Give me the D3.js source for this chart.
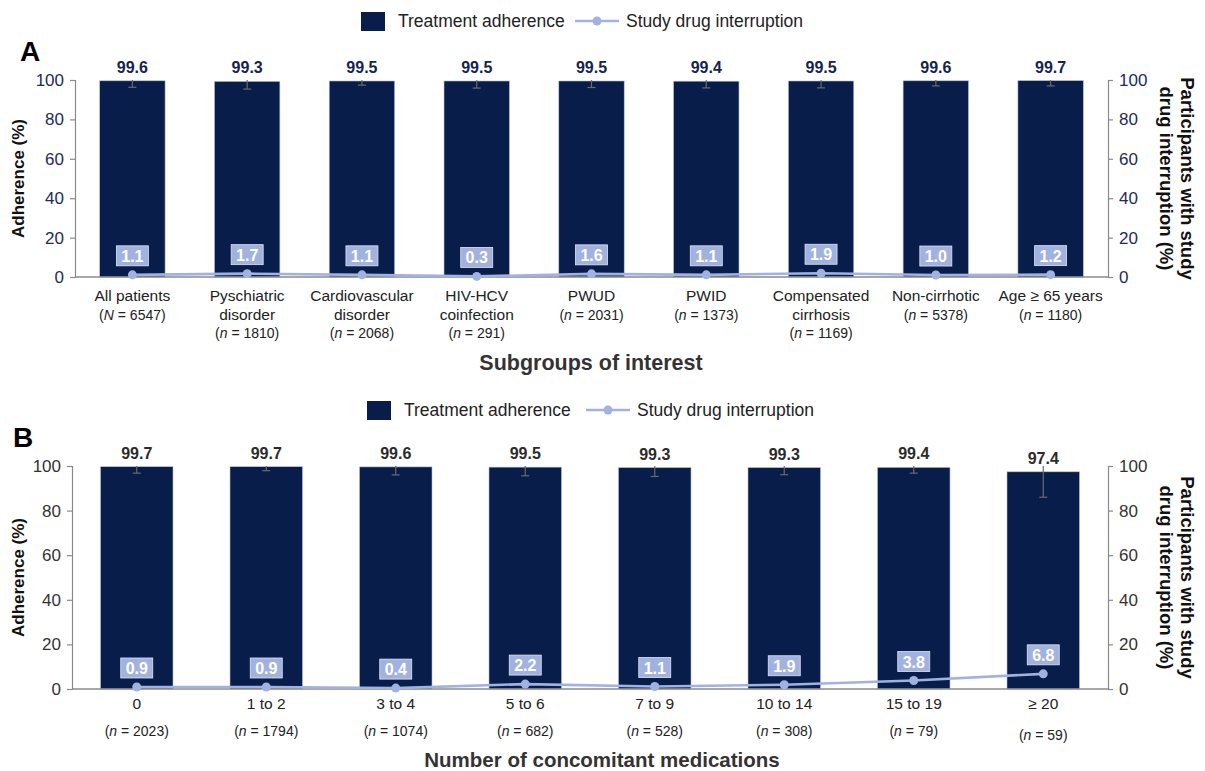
<!DOCTYPE html>
<html><head><meta charset="utf-8">
<script src="https://cdn.jsdelivr.net/npm/d3@7"></script>
<style>body{margin:0;background:#fff}svg{font-family:"Liberation Sans",Arial,sans-serif}</style>
</head><body><svg id="c" width="1205" height="771"></svg>
<script>
// ---------- Data ----------
const catsA = [["All patients"],["Pyschiatric","disorder"],["Cardiovascular","disorder"],["HIV-HCV","coinfection"],["PWUD"],["PWID"],["Compensated","cirrhosis"],["Non-cirrhotic"],["Age ≥ 65 years"]];
const nA = [["N","6547"],["n","1810"],["n","2068"],["n","291"],["n","2031"],["n","1373"],["n","1169"],["n","5378"],["n","1180"]];
const adherenceA = [99.6,99.3,99.5,99.5,99.5,99.4,99.5,99.6,99.7];
const errLowA = [96.3,95.4,97.4,95.9,96.2,96.0,96.0,97.0,97.0];
const errHighA = [100,100,100,100,100,100,100,100,100];
const interruptA = [1.1,1.7,1.1,0.3,1.6,1.1,1.9,1.0,1.2];

const catsB = [["0"],["1 to 2"],["3 to 4"],["5 to 6"],["7 to 9"],["10 to 14"],["15 to 19"],["≥ 20"]];
const nB = [["n","2023"],["n","1794"],["n","1074"],["n","682"],["n","528"],["n","308"],["n","79"],["n","59"]];
const adherenceB = [99.7,99.7,99.6,99.5,99.3,99.3,99.4,97.4];
const errLowB = [96.8,97.9,96.0,95.6,95.3,96.1,96.8,86.0];
const errHighB = [100,100,100,100,100,100,100,100];
const interruptB = [0.9,0.9,0.4,2.2,1.1,1.9,3.8,6.8];

const yTicks = [0,20,40,60,80,100];

// ---------- Styles ----------
const BAR = "#081d4a", LINE = "#a2b2e0", BOX = "#a2b2df", AXIS = "#8a8a8a", ERR = "#6b6b6b";

const svg = d3.select("#c");

function panel(o){
  const g = svg.append("g");
  const x = d3.scaleBand().domain(o.cats.map((d,i)=>i)).range([o.x0,o.x1]).paddingInner(o.pad).paddingOuter(o.pad/2);
  const y = d3.scaleLinear().domain([0,100]).range([o.yb,o.yt]);
  const y2 = d3.scaleLinear().domain([0,100]).range([o.yb,o.yt]);

  // axes
  const la = g.append("g").attr("transform",`translate(${o.x0},0)`).call(d3.axisLeft(y).tickValues(yTicks).tickSize(5).tickPadding(6));
  const ra = g.append("g").attr("transform",`translate(${o.x1},0)`).call(d3.axisRight(y2).tickValues(yTicks).tickSize(5).tickPadding(6));
  [la,ra].forEach(a=>{
    a.selectAll("path,line").attr("stroke",AXIS).attr("stroke-width",1.2);
    a.selectAll("text").attr("fill",o.tickColor).style("font-size","17px");
  });
  // bars
  g.selectAll("rect.bar").data(o.adh).join("rect")
    .attr("x",(d,i)=>x(i)).attr("width",x.bandwidth())
    .attr("y",d=>y(d)).attr("height",d=>y(0)-y(d))
    .attr("fill",BAR).attr("stroke","#b8c2dc").attr("stroke-width",0.6);
  // baseline
  g.append("line").attr("x1",o.x0).attr("x2",o.x1).attr("y1",y(0)).attr("y2",y(0)).attr("stroke",AXIS).attr("stroke-width",1.4);
  // error bars
  o.adh.forEach((d,i)=>{
    const cx = x(i)+x.bandwidth()/2;
    g.append("line").attr("x1",cx).attr("x2",cx).attr("y1",y(o.hi[i])).attr("y2",y(o.lo[i])).attr("stroke",ERR).attr("stroke-width",1.2);
    g.append("line").attr("x1",cx-4).attr("x2",cx+4).attr("y1",y(o.lo[i])).attr("y2",y(o.lo[i])).attr("stroke",ERR).attr("stroke-width",1.2);
  });
  // value labels
  g.selectAll("text.val").data(o.adh).join("text")
    .attr("x",(d,i)=>x(i)+x.bandwidth()/2).attr("y",d=>y(d)-8)
    .attr("text-anchor","middle").attr("font-weight","bold").style("font-size","16px").attr("fill",o.valColor)
    .text(d=>d.toFixed(1));
  // line
  const line = d3.line().x((d,i)=>x(i)+x.bandwidth()/2).y(d=>y2(d));
  g.append("path").datum(o.intr).attr("d",line).attr("fill","none").attr("stroke",LINE).attr("stroke-width",2.6);
  g.selectAll("circle.pt").data(o.intr).join("circle")
    .attr("cx",(d,i)=>x(i)+x.bandwidth()/2).attr("cy",d=>y2(d)).attr("r",4.5).attr("fill",LINE);
  o.intr.forEach((d,i)=>{
    const cx = x(i)+x.bandwidth()/2, cy = y2(d);
    g.append("rect").attr("x",cx-16).attr("y",cy-29).attr("width",32).attr("height",20).attr("fill",BOX).attr("stroke","#dfe5f5").attr("stroke-width",0.8);
    g.append("text").attr("x",cx).attr("y",cy-13).attr("text-anchor","middle").attr("font-weight","bold").style("font-size","16px").attr("fill","#fff").text(d.toFixed(1));
  });
  // category labels
  o.cats.forEach((c,i)=>{
    const cx = x(i)+x.bandwidth()/2;
    const t = g.append("text").attr("text-anchor","middle").attr("fill","#222").style("font-size","15.5px");
    c.forEach((line,j)=>t.append("tspan").attr("x",cx).attr("y",o.catY+j*o.lh).text(line));
    const ny = o.nY ? o.nY(i,c.length) : o.catY + c.length*o.lh;
    const nt = g.append("text").attr("x",cx).attr("y",ny).attr("text-anchor","middle").attr("fill","#222").style("font-size",o.nSize);
    nt.append("tspan").text("(");
    nt.append("tspan").attr("font-style","italic").text(o.ns[i][0]);
    nt.append("tspan").text(" = "+o.ns[i][1]+")");
  });
  // axis titles
  const midY = (o.yb+o.yt)/2;
  g.append("text").attr("transform",`translate(${o.lblX},${midY}) rotate(-90)`).attr("text-anchor","middle")
    .attr("font-weight","bold").style("font-size","17px").attr("fill","#111").text("Adherence (%)");
  const rt = g.append("text").attr("transform",`translate(${o.rlblX},${midY}) rotate(90)`).attr("text-anchor","middle")
    .attr("font-weight","bold").style("font-size","18.5px").attr("fill","#111");
  rt.append("tspan").attr("x",0).attr("y",0).text("Participants with study");
  rt.append("tspan").attr("x",0).attr("y",21).text("drug interruption (%)");
  g.append("text").attr("x",o.titleX).attr("y",o.titleY).attr("text-anchor","middle").attr("font-weight","bold")
    .style("font-size",o.titleSize).attr("fill","#333").text(o.title);
  // panel letter
  g.append("text").attr("x",o.letterX).attr("y",o.letterY).attr("font-weight","bold").style("font-size","28px").attr("fill","#000").text(o.letter);
  // legend
  const lg = g.append("g");
  lg.append("rect").attr("x",o.legX).attr("y",o.legY-9).attr("width",24).attr("height",19).attr("fill",BAR);
  lg.append("text").attr("x",o.legX+37).attr("y",o.legY+6).style("font-size","17.5px").attr("fill","#222").text("Treatment adherence");
  const lx = o.legX2;
  lg.append("line").attr("x1",lx).attr("x2",lx+44).attr("y1",o.legY).attr("y2",o.legY).attr("stroke",LINE).attr("stroke-width",2.6);
  lg.append("circle").attr("cx",lx+22).attr("cy",o.legY).attr("r",4.5).attr("fill",LINE);
  lg.append("text").attr("x",lx+51).attr("y",o.legY+6).style("font-size","17.5px").attr("fill","#222").text("Study drug interruption");
}

panel({cats:catsA, ns:nA, adh:adherenceA, lo:errLowA, hi:errHighA, intr:interruptA,
  x0:75, x1:1108, yt:80, yb:277, pad:0.43, tickColor:"#1c2b5a", valColor:"#14244f",
  catY:301, lh:18.5, nSize:"14px", lblX:24, rlblX:1181, titleX:591, titleY:370, titleSize:"21.5px", title:"Subgroups of interest",
  letter:"A", letterX:20, letterY:61, legX:361, legY:21, legX2:575});

panel({cats:catsB, ns:nB, adh:adherenceB, lo:errLowB, hi:errHighB, intr:interruptB,
  x0:72, x1:1108, yt:466, yb:689, pad:0.44, tickColor:"#333", valColor:"#2b2b2b",
  catY:709, lh:18.5, nSize:"14px", nY:(i)=> i===7 ? 740 : 736, lblX:24, rlblX:1181, titleX:602, titleY:767, titleSize:"20.5px", title:"Number of concomitant medications",
  letter:"B", letterX:13, letterY:447, legX:367, legY:410, legX2:586});
</script></body></html>
